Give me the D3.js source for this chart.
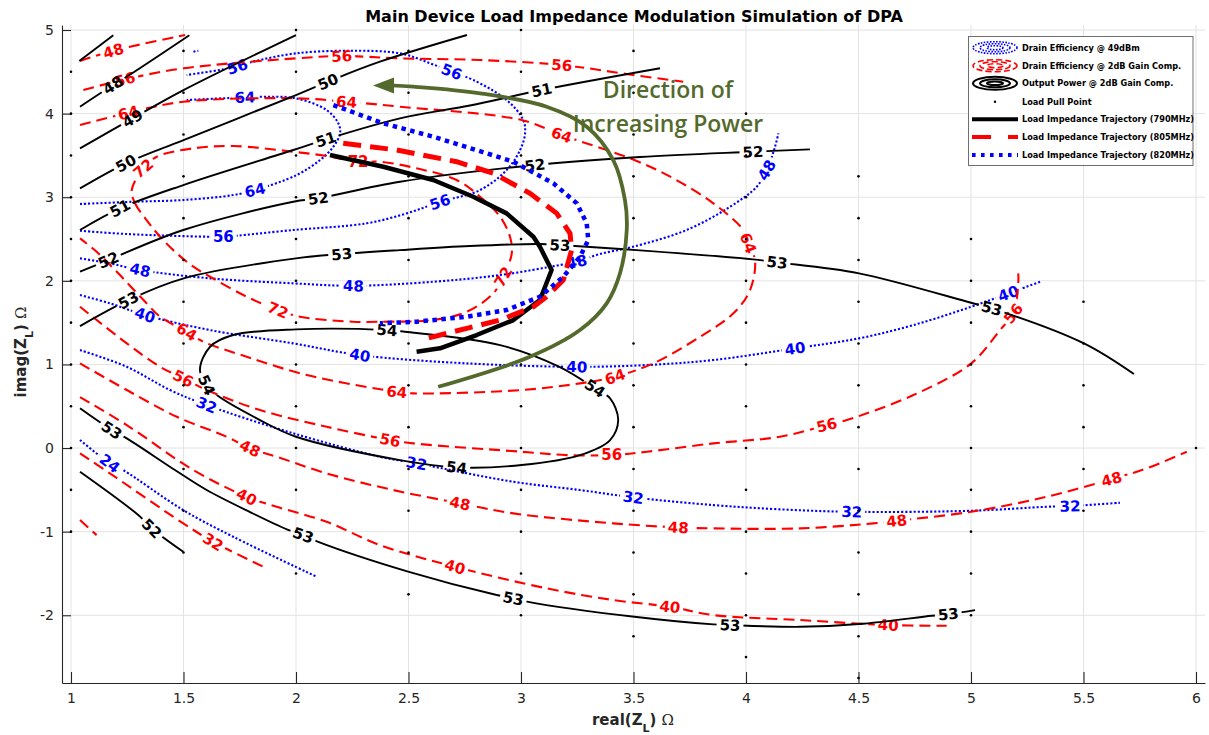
<!DOCTYPE html>
<html><head><meta charset="utf-8">
<script src="https://cdn.jsdelivr.net/npm/d3@7"></script>
<style>body{margin:0;background:#fff}svg{display:block}</style>
</head><body><svg id="c" width="1209" height="735"></svg>
<script>
// ---------------- DATA ----------------
const xTicks = [1,1.5,2,2.5,3,3.5,4,4.5,5,5.5,6];
const yTicks = [-2,-1,0,1,2,3,4,5];

// Load pull grid columns: [real, lowest imag, highest imag] (0.5 spacing)
const loadPullCols = [[1,-1,4.5],[1.5,-1.25,4.75],[2,-1.5,5],[2.5,-1.75,4.75],[3,-2,5],[3.5,-2.25,4.75],[4,-2.5,4],[4.5,-2.75,3.25],[5,-2,2.5],[5.5,-0.75,1.75],[6,0,0]];

// Drain Efficiency @ 49dBm (blue dotted)
const effBlue = [
 {level:"56", pts:[[1.04,2.599],[1.248,2.56],[1.603,2.528],[1.677,2.528],[1.988,2.608],[2.314,2.688],[2.492,2.807],[2.64,2.943],[2.818,3.086],[2.936,3.325],[2.996,3.565],[3.018,3.764],[3.01,3.923],[2.936,4.163],[2.788,4.402],[2.692,4.501],[2.596,4.602],[2.462,4.721],[2.24,4.752],[2.0,4.721],[1.809,4.621],[1.739,4.561],[1.514,4.462]], labels:[[1.677,2.528],[2.64,2.943],[2.692,4.501],[1.739,4.561]]},
 {level:"56", pts:[[1.544,4.74],[1.566,4.752]], labels:[]},
 {level:"64", pts:[[1.04,2.919],[1.277,2.946],[1.501,2.967],[1.721,3.026],[1.818,3.086],[2.003,3.266],[2.107,3.445],[2.166,3.604],[2.196,3.764],[2.188,3.884],[2.136,4.043],[2.0,4.183],[1.855,4.202],[1.773,4.195],[1.514,4.163]], labels:[[1.818,3.086],[1.773,4.195]]},
 {level:"48", pts:[[1.04,2.269],[1.173,2.209],[1.307,2.129],[1.618,2.03],[1.988,1.97],[2.255,1.941],[2.61,1.989],[2.907,2.069],[3.173,2.189],[3.248,2.228],[3.351,2.321],[3.498,2.408],[3.736,2.608],[3.929,2.886],[4.048,3.126],[4.092,3.325],[4.129,3.604],[4.144,3.764]], labels:[[1.307,2.129],[2.255,1.941],[3.248,2.228],[4.092,3.325]]},
 {level:"40", pts:[[1.04,1.83],[1.173,1.731],[1.329,1.591],[1.618,1.411],[1.988,1.252],[2.284,1.112],[2.759,1.013],[3.248,0.972],[3.559,0.993],[3.855,1.053],[4.218,1.193],[4.502,1.312],[4.744,1.471],[5.001,1.69],[5.166,1.85],[5.307,1.989]], labels:[[1.329,1.591],[2.284,1.112],[3.248,0.972],[4.218,1.193],[5.166,1.85]]},
 {level:"32", pts:[[1.04,1.172],[1.248,0.972],[1.44,0.694],[1.603,0.514],[1.988,0.176],[2.373,-0.104],[2.536,-0.183],[2.966,-0.403],[3.262,-0.502],[3.499,-0.59],[3.855,-0.682],[4.151,-0.733],[4.47,-0.762],[5.001,-0.75],[5.336,-0.702],[5.44,-0.694],[5.662,-0.654]], labels:[[1.603,0.514],[2.536,-0.183],[3.499,-0.59],[4.47,-0.762],[5.44,-0.694]]},
 {level:"24", pts:[[1.04,0.096],[1.173,-0.183],[1.232,-0.263],[1.499,-0.742],[1.721,-1.061],[2.092,-1.539]], labels:[[1.173,-0.183]]}
];

// Drain Efficiency @ 2dB Gain Comp. (red dashed)
const effRed = [
 {level:"48", pts:[[1.04,4.629],[1.188,4.752],[1.507,4.94]], labels:[[1.188,4.752]]},
 {level:"56", pts:[[1.055,4.282],[1.24,4.41],[1.501,4.542],[2.0,4.661],[2.203,4.689],[2.462,4.661],[2.818,4.641],[3.181,4.581],[3.499,4.462],[3.721,4.382]], labels:[[1.24,4.41],[2.203,4.689],[3.181,4.581]]},
 {level:"64", pts:[[1.04,3.864],[1.255,4.011],[1.501,4.142],[2.0,4.183],[2.225,4.142],[2.462,4.083],[3.003,3.923],[3.181,3.744],[3.504,3.445],[3.677,3.226],[3.855,2.927],[3.988,2.608],[4.01,2.452],[4.04,2.249],[4.018,1.89],[3.944,1.611],[3.796,1.331],[3.588,1.013],[3.418,0.853],[3.262,0.774],[3.003,0.694],[2.521,0.654],[2.448,0.673],[2.048,0.873],[1.781,1.092],[1.588,1.272],[1.514,1.391],[1.396,1.571],[1.336,1.731],[1.21,2.09],[1.114,2.348],[1.04,2.508]], labels:[[1.255,4.011],[2.225,4.142],[3.181,3.744],[4.01,2.452],[3.418,0.853],[2.448,0.673],[1.514,1.391]]},
 {level:"72", closed:true, pts:[[1.27,3.086],[1.284,2.931],[1.336,2.727],[1.396,2.528],[1.47,2.329],[1.544,2.169],[1.618,2.049],[1.781,1.81],[1.92,1.651],[2.018,1.571],[2.253,1.511],[2.373,1.511],[2.609,1.531],[2.759,1.63],[2.877,1.85],[2.921,2.049],[2.959,2.329],[2.951,2.528],[2.907,2.767],[2.818,3.006],[2.714,3.206],[2.536,3.346],[2.373,3.425],[2.276,3.425],[2.136,3.493],[1.988,3.544],[1.721,3.612],[1.544,3.585],[1.381,3.484],[1.321,3.346]], labels:[[1.321,3.346],[1.92,1.651],[2.921,2.049],[2.276,3.425]]},
 {level:"56", pts:[[1.04,1.69],[1.248,1.252],[1.396,0.972],[1.499,0.834],[1.603,0.694],[1.84,0.455],[2.136,0.255],[2.418,0.096],[2.521,0.056],[3.003,-0.044],[3.203,-0.084],[3.403,-0.084],[3.559,-0.044],[3.855,0.056],[4.151,0.135],[4.359,0.275],[4.448,0.335],[4.744,0.634],[5.001,1.013],[5.129,1.411],[5.188,1.611],[5.21,1.97],[5.21,2.09]], labels:[[1.499,0.834],[2.418,0.096],[3.403,-0.084],[4.359,0.275],[5.188,1.611]]},
 {level:"48", pts:[[1.04,1.013],[1.248,0.694],[1.47,0.374],[1.692,0.135],[1.796,-0.004],[1.914,-0.104],[2.136,-0.303],[2.432,-0.502],[2.729,-0.661],[2.966,-0.781],[3.41,-0.901],[3.699,-0.949],[3.855,-0.961],[4.24,-0.961],[4.566,-0.901],[4.67,-0.87],[5.001,-0.762],[5.336,-0.583],[5.625,-0.371],[5.781,-0.243],[5.959,-0.044]], labels:[[1.796,-0.004],[2.729,-0.661],[3.699,-0.949],[4.67,-0.87],[5.625,-0.371]]},
 {level:"40", pts:[[1.04,0.61],[1.248,0.275],[1.544,-0.263],[1.781,-0.583],[1.914,-0.702],[2.136,-0.882],[2.373,-1.16],[2.707,-1.42],[3.114,-1.678],[3.41,-1.818],[3.662,-1.898],[3.855,-1.998],[4.24,-2.057],[4.632,-2.117],[4.892,-2.126]], labels:[[1.781,-0.583],[2.707,-1.42],[3.662,-1.898],[4.632,-2.117]]},
 {level:"32", pts:[[1.04,-0.063],[1.173,-0.303],[1.499,-0.901],[1.632,-1.121],[1.855,-1.42]], labels:[[1.632,-1.121]]},
 {level:"24", pts:[[1.04,-0.861],[1.114,-1.041]], labels:[]}
];

// Output Power @ 2dB Gain Comp. (black solid)
const poutBlack = [
 {level:"47", pts:[[1.037,4.629],[1.188,4.937]], labels:[]},
 {level:"48", pts:[[1.04,4.083],[1.187,4.342],[1.253,4.45],[1.526,4.937]], labels:[[1.187,4.342]]},
 {level:"49", pts:[[1.04,3.585],[1.274,3.944],[1.5,4.282],[2.0,4.94]], labels:[[1.274,3.944]]},
 {level:"50", pts:[[1.04,3.106],[1.244,3.406],[1.5,3.684],[2.0,4.222],[2.142,4.382],[2.373,4.621],[2.76,4.94]], labels:[[1.244,3.406],[2.142,4.382]]},
 {level:"51", pts:[[1.04,2.608],[1.218,2.867],[1.499,3.146],[1.988,3.565],[2.133,3.693],[2.462,3.944],[2.773,4.097],[3.092,4.282],[3.618,4.542]], labels:[[1.218,2.867],[2.133,3.693],[3.092,4.282]]},
 {level:"52", pts:[[1.04,2.109],[1.166,2.249],[1.499,2.608],[1.988,2.946],[2.099,2.987],[2.462,3.185],[3.062,3.385],[3.529,3.481],[4.031,3.544],[4.284,3.573]], labels:[[1.166,2.249],[2.099,2.987],[3.062,3.385],[4.031,3.544]]},
 {level:"53", pts:[[1.04,1.459],[1.255,1.77],[1.501,2.03],[2.0,2.269],[2.203,2.321],[2.462,2.368],[2.773,2.416],[3.084,2.44],[3.173,2.428],[3.529,2.365],[4.031,2.257],[4.138,2.221],[4.502,2.09],[5.0,1.738],[5.092,1.671],[5.502,1.252],[5.724,0.885]], labels:[[1.255,1.77],[2.203,2.321],[3.173,2.428],[4.138,2.221],[5.092,1.671]]},
 {level:"54", closed:true, pts:[[1.573,0.933],[1.603,0.754],[1.648,0.634],[1.84,0.335],[2.0,0.135],[2.462,-0.144],[2.714,-0.231],[3.003,-0.203],[3.262,-0.084],[3.396,0.096],[3.432,0.335],[3.396,0.594],[3.329,0.714],[3.173,0.969],[2.907,1.232],[2.484,1.391],[2.404,1.411],[2.0,1.42],[1.721,1.352],[1.618,1.212]], labels:[[1.603,0.754],[2.404,1.411],[3.329,0.714],[2.714,-0.231]]},
 {level:"53", pts:[[1.04,0.475],[1.181,0.215],[1.248,0.116],[1.462,-0.263],[1.603,-0.502],[1.796,-0.766],[1.959,-0.972],[2.032,-1.041],[2.099,-1.121],[2.502,-1.48],[2.892,-1.758],[2.966,-1.798],[3.032,-1.839],[3.504,-2.018],[3.855,-2.109],[3.929,-2.117],[4.24,-2.138],[4.502,-2.105],[4.825,-2.006],[4.899,-1.986],[5.018,-1.938]], labels:[[1.181,0.215],[2.032,-1.041],[2.966,-1.798],[3.929,-2.117],[4.899,-1.986]]},
 {level:"52", pts:[[1.04,-0.283],[1.299,-0.801],[1.359,-0.961],[1.499,-1.24]], labels:[[1.359,-0.961]]}
];

// Load impedance trajectories
const traj790 = [[2.151,3.505],[2.388,3.365],[2.61,3.206],[2.788,3.006],[2.936,2.807],[3.055,2.528],[3.084,2.408],[3.136,2.129],[3.107,1.929],[3.084,1.77],[2.966,1.531],[2.803,1.352],[2.64,1.193],[2.536,1.152]];
const traj805 = [[2.21,3.645],[2.448,3.565],[2.714,3.425],[2.877,3.286],[3.04,3.047],[3.159,2.807],[3.218,2.568],[3.225,2.368],[3.188,2.01],[3.114,1.81],[3.055,1.69],[2.907,1.531],[2.759,1.432],[2.581,1.312]];
const traj820 = [[2.166,4.103],[2.388,3.884],[2.61,3.724],[2.848,3.525],[2.966,3.425],[3.144,3.166],[3.248,2.927],[3.292,2.688],[3.299,2.488],[3.262,2.288],[3.188,2.049],[3.084,1.81],[2.936,1.651],[2.759,1.571],[2.536,1.511],[2.373,1.492]];

// "Direction of Increasing Power" arrow path
const arrowPts = [[2.632,0.733],[3.04,1.092],[3.262,1.411],[3.381,1.731],[3.44,2.09],[3.47,2.608],[3.462,2.967],[3.41,3.445],[3.292,3.843],[3.114,4.083],[2.818,4.243],[2.521,4.322],[2.42,4.338]];

const legendLabels = ["Drain Efficiency @ 49dBm","Drain Efficiency @ 2dB Gain Comp.","Output Power @ 2dB Gain Comp.","Load Pull Point","Load Impedance Trajectory (790MHz)","Load Impedance Trajectory (805MHz)","Load Impedance Trajectory (820MHz)"];

// ---------------- DRAW ----------------
const W = 1209, H = 735;
const L = 62, R = 1205, T = 25, B = 683;
const x = d3.scaleLinear().domain([0.96, 6.04]).range([L, R]);
const y = d3.scaleLinear().domain([-2.81, 5.06]).range([B, T]);
const FONT = "'DejaVu Sans', sans-serif";
const svg = d3.select('#c');
const defs = svg.append('defs');
defs.append('clipPath').attr('id','plotclip').append('rect')
  .attr('x',L).attr('y',T).attr('width',R-L).attr('height',B-T);

// grid
const grid = svg.append('g').attr('stroke','#e3e3e3').attr('stroke-width',1);
xTicks.forEach(t => grid.append('line').attr('x1',x(t)).attr('x2',x(t)).attr('y1',T).attr('y2',B));
yTicks.forEach(t => grid.append('line').attr('y1',y(t)).attr('y2',y(t)).attr('x1',L).attr('x2',R));

// axes
const gx = svg.append('g').attr('transform',`translate(0,${B})`)
  .call(d3.axisBottom(x).tickValues(xTicks).tickFormat(d=>String(d)).tickSizeInner(-11).tickSizeOuter(0).tickPadding(10));
const gy = svg.append('g').attr('transform',`translate(${L},0)`)
  .call(d3.axisLeft(y).tickValues(yTicks).tickFormat(d=>String(d)).tickSizeInner(-9).tickSizeOuter(0).tickPadding(8));
[gx,gy].forEach(g=>{
  g.select('.domain').attr('stroke','#262626').attr('stroke-width',1.1);
  g.selectAll('.tick line').attr('stroke','#262626').attr('stroke-width',1.1);
  g.selectAll('.tick text').attr('fill','#262626').style('font-family',FONT).style('font-size','14px');
});

// load pull points
const lpPts = [];
loadPullCols.forEach(([cx,lo,hi]) => { d3.range(lo, hi+0.001, 0.5).forEach(v => lpPts.push([cx,v])); });

// contour helper
function placeLabel(P, q, closed){
  let best = null;
  const n = P.length, segs = closed ? n : n-1;
  for (let k=0;k<segs;k++){
    const a = P[k], b = P[(k+1)%n];
    const dx=b[0]-a[0], dy=b[1]-a[1];
    const l2 = dx*dx+dy*dy || 1;
    let t = ((q[0]-a[0])*dx+(q[1]-a[1])*dy)/l2;
    t = Math.max(0,Math.min(1,t));
    const px=a[0]+t*dx, py=a[1]+t*dy;
    const d=(px-q[0])**2+(py-q[1])**2;
    if(!best || d<best.d){ let ang=Math.atan2(dy,dx)*180/Math.PI; if(ang>90)ang-=180; if(ang<-90)ang+=180; best={d,x:px,y:py,a:ang}; }
  }
  return best;
}

let maskId = 0;
function drawFamily(list, color, sw, dash, linecap){
  const gl = svg.append('g').attr('clip-path','url(#plotclip)');
  const gt = svg.append('g');
  list.forEach(c => {
    const P = c.pts.map(p => [x(p[0]), y(p[1])]);
    const id = 'm'+(maskId++);
    const mask = defs.append('mask').attr('id',id).attr('maskUnits','userSpaceOnUse')
      .attr('x',0).attr('y',0).attr('width',W).attr('height',H);
    mask.append('rect').attr('width',W).attr('height',H).attr('fill','#fff');
    (c.labels||[]).forEach(lp => {
      const Lb = placeLabel(P, [x(lp[0]), y(lp[1])], c.closed);
      const tr = `translate(${Lb.x},${Lb.y}) rotate(${Lb.a})`;
      const t = gt.append('text').attr('transform',tr).attr('text-anchor','middle').attr('dy','0.36em')
        .attr('fill',color).style('font-family',FONT).style('font-size','15px').style('font-weight','bold').text(c.level);
      const w = t.node().getComputedTextLength();
      mask.append('rect').attr('x',-w/2-3).attr('y',-8).attr('width',w+6).attr('height',16).attr('transform',tr).attr('fill','#000');
    });
    const line = d3.line().curve(c.closed ? d3.curveCatmullRomClosed.alpha(0.5) : d3.curveCatmullRom.alpha(0.5));
    gl.append('path').attr('d', line(P)).attr('fill','none').attr('stroke',color).attr('stroke-width',sw)
      .attr('stroke-dasharray',dash).attr('stroke-linecap',linecap||'butt').attr('mask',`url(#${id})`);
  });
}

drawFamily(effBlue, '#0000ff', 2.1, '2.1,2');
drawFamily(effRed, '#ff0000', 2.1, '11,6');
drawFamily(poutBlack, '#000000', 1.9, null);

// dots
svg.append('g').selectAll('circle').data(lpPts).join('circle')
  .attr('cx',d=>x(d[0])).attr('cy',d=>y(d[1])).attr('r',1.3).attr('fill','#000');

// trajectories
const tl = d3.line().x(d=>x(d[0])).y(d=>y(d[1]));
const gtr = svg.append('g').attr('fill','none');
gtr.append('path').attr('d',tl(traj790)).attr('stroke','#000').attr('stroke-width',4.5).attr('stroke-linejoin','round');
gtr.append('path').attr('d',tl(traj805)).attr('stroke','#ff0000').attr('stroke-width',5).attr('stroke-dasharray','18,9');
gtr.append('path').attr('d',tl(traj820)).attr('stroke','#0000ff').attr('stroke-width',4.5).attr('stroke-dasharray','4.5,4.5');

// green arrow
const GREEN = '#536a2c';
const al = d3.line().x(d=>x(d[0])).y(d=>y(d[1])).curve(d3.curveCatmullRom.alpha(0.5));
svg.append('path').attr('d',al(arrowPts)).attr('fill','none').attr('stroke',GREEN).attr('stroke-width',3.8);
const tip = [373, 85.5];
svg.append('path').attr('d',`M${tip[0]},${tip[1]} L${tip[0]+21},${tip[1]-8} L${tip[0]+21},${tip[1]+8} Z`).attr('fill',GREEN);
const gtext = svg.append('g').attr('fill',GREEN).style('font-family',"'Open Sans', sans-serif").style('font-size','23px').style('font-weight','600').attr('text-anchor','middle');
gtext.append('text').attr('x',668).attr('y',98).text('Direction of');
gtext.append('text').attr('x',668).attr('y',131.5).text('Increasing Power');

// title & labels
svg.append('text').attr('x',634).attr('y',21.5).attr('text-anchor','middle').style('font-family',FONT)
  .style('font-size','16px').style('font-weight','bold').attr('fill','#000').text('Main Device Load Impedance Modulation Simulation of DPA');
const xl = svg.append('text').attr('x',633).attr('y',725).attr('text-anchor','middle').style('font-family',FONT).style('font-size','15px').style('font-weight','bold').attr('fill','#262626');
xl.append('tspan').text('real(Z');
xl.append('tspan').attr('baseline-shift','sub').style('font-size','11px').text('L');
xl.append('tspan').text(') ');
xl.append('tspan').style('font-weight','normal').style('font-family',"'DejaVu Serif', serif").text('Ω');
const yl = svg.append('text').attr('transform','translate(26,352) rotate(-90)').attr('text-anchor','middle').style('font-family',FONT).style('font-size','15px').style('font-weight','bold').attr('fill','#262626');
yl.append('tspan').text('imag(Z');
yl.append('tspan').attr('baseline-shift','sub').style('font-size','11px').text('L');
yl.append('tspan').text(') ');
yl.append('tspan').style('font-weight','normal').style('font-family',"'DejaVu Serif', serif").text('Ω');

// legend
const lg = svg.append('g');
lg.append('rect').attr('x',968.5).attr('y',36.5).attr('width',224.5).attr('height',129).attr('fill','#fff').attr('stroke','#6e6e6e').attr('stroke-width',1);
const ly = [47.7,65.7,83.3,101.7,119.3,137,155];
const icx = 995;
[[22,6],[15,4],[8,2]].forEach(([rx,ry])=>lg.append('ellipse').attr('cx',icx).attr('cy',ly[0]).attr('rx',rx).attr('ry',ry).attr('fill','none').attr('stroke','#0000ff').attr('stroke-width',1.6).attr('stroke-dasharray','1.6,1.4'));
[[22,6],[15,4],[8,2]].forEach(([rx,ry])=>lg.append('ellipse').attr('cx',icx).attr('cy',ly[1]).attr('rx',rx).attr('ry',ry).attr('fill','none').attr('stroke','#ff0000').attr('stroke-width',1.6).attr('stroke-dasharray','6,3'));
[[22,6.5],[15,4],[8,1.8]].forEach(([rx,ry])=>lg.append('ellipse').attr('cx',icx).attr('cy',ly[2]).attr('rx',rx).attr('ry',ry).attr('fill','none').attr('stroke','#000').attr('stroke-width',2));
lg.append('circle').attr('cx',icx).attr('cy',ly[3]).attr('r',1.2).attr('fill','#000');
lg.append('line').attr('x1',972).attr('x2',1018).attr('y1',ly[4]).attr('y2',ly[4]).attr('stroke','#000').attr('stroke-width',4);
lg.append('line').attr('x1',972).attr('x2',1018).attr('y1',ly[5]).attr('y2',ly[5]).attr('stroke','#ff0000').attr('stroke-width',4).attr('stroke-dasharray','19,17');
lg.append('line').attr('x1',972).attr('x2',1018).attr('y1',ly[6]).attr('y2',ly[6]).attr('stroke','#0000ff').attr('stroke-width',4).attr('stroke-dasharray','3.6,5.4');
legendLabels.forEach((t,i)=>lg.append('text').attr('x',1022).attr('y',ly[i]).attr('dy','0.35em').style('font-family',FONT).style('font-size','8.2px').style('font-weight','bold').attr('fill','#000').text(t));
</script>
</body></html>
